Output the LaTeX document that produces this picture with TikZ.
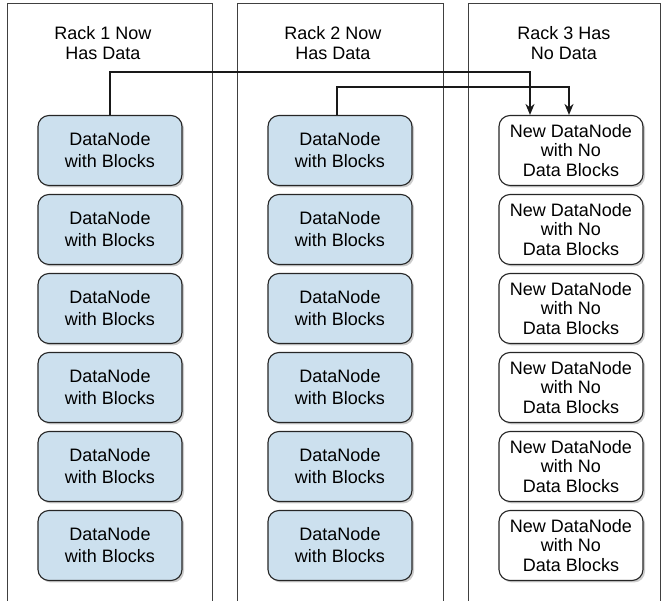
\documentclass[tikz,border=0pt]{standalone}
\usepackage{fontspec}
\setmainfont{Liberation Sans}
\usetikzlibrary{arrows.meta,shadows}
\definecolor{nodeblue}{RGB}{204,224,238}

\begin{document}
\begin{tikzpicture}[x=1pt,y=1pt,
  rack/.style={black!75,line width=0.8pt},
  title/.style={align=center,inner sep=0pt,font=\fontsize{18}{20.5}\selectfont},
  oldnode/.style={draw=black!85,line width=1.1pt,rounded corners=11pt,fill=nodeblue,
    minimum width=144pt,minimum height=70pt,inner sep=0pt,align=center,
    font=\fontsize{18}{22}\selectfont,
    drop shadow={shadow xshift=2pt,shadow yshift=-2pt,opacity=0.4}},
  newnode/.style={oldnode,fill=white,font=\fontsize{18}{19.5}\selectfont},
  link/.style={black!90,line width=1.8pt,-{Stealth[length=11pt,width=9pt]}}]
\useasboundingbox (0,0) rectangle (661,601);
\begin{scope}[shift={(0,0)}]
\draw[rack] (7,0) -- (7,598) -- (212,598) -- (212,0);
\node[title] (t1) at (103,558) {Rack 1 Now\\Has Data};
\node[oldnode] (r1n1) at (110,450.5) {DataNode\\with Blocks};
\node[oldnode] (r1n2) at (110,371.5) {DataNode\\with Blocks};
\node[oldnode] (r1n3) at (110,292.5) {DataNode\\with Blocks};
\node[oldnode] (r1n4) at (110,213.5) {DataNode\\with Blocks};
\node[oldnode] (r1n5) at (110,134.5) {DataNode\\with Blocks};
\node[oldnode] (r1n6) at (110,55.5) {DataNode\\with Blocks};
\end{scope}
\begin{scope}[shift={(230,0)}]
\draw[rack] (7,0) -- (7,598) -- (213,598) -- (213,0);
\node[title] (t2) at (103,558) {Rack 2 Now\\Has Data};
\node[oldnode] (r2n1) at (110,450.5) {DataNode\\with Blocks};
\node[oldnode] (r2n2) at (110,371.5) {DataNode\\with Blocks};
\node[oldnode] (r2n3) at (110,292.5) {DataNode\\with Blocks};
\node[oldnode] (r2n4) at (110,213.5) {DataNode\\with Blocks};
\node[oldnode] (r2n5) at (110,134.5) {DataNode\\with Blocks};
\node[oldnode] (r2n6) at (110,55.5) {DataNode\\with Blocks};
\end{scope}
\begin{scope}[shift={(461,0)}]
\draw[rack] (7,0) -- (7,598) -- (199,598) -- (199,0);
\node[title] (t3) at (103,558) {Rack 3 Has\\No Data};
\node[newnode] (r3n1) at (110,450.5) {New DataNode\\with No\\Data Blocks};
\node[newnode] (r3n2) at (110,371.5) {New DataNode\\with No\\Data Blocks};
\node[newnode] (r3n3) at (110,292.5) {New DataNode\\with No\\Data Blocks};
\node[newnode] (r3n4) at (110,213.5) {New DataNode\\with No\\Data Blocks};
\node[newnode] (r3n5) at (110,134.5) {New DataNode\\with No\\Data Blocks};
\node[newnode] (r3n6) at (110,55.5) {New DataNode\\with No\\Data Blocks};
\end{scope}
% blocks copied to the new rack
\draw[link] (r1n1.north) -- ++(0,43) -| ([xshift=-41pt]r3n1.north);
\draw[link] ([xshift=-3pt]r2n1.north) -- ++(0,28) -| ([xshift=-2pt]r3n1.north);
\end{tikzpicture}
\end{document}
